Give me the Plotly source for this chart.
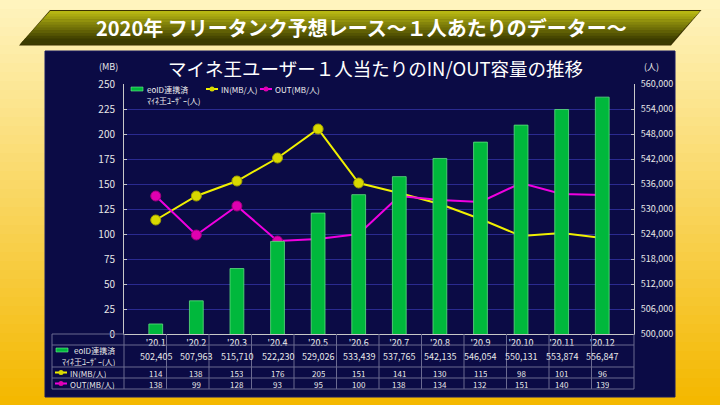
import plotly.graph_objects as go

W, H = 720, 405

# ---------------- data ----------------
months = ["'20.1", "'20.2", "'20.3", "'20.4", "'20.5", "'20.6",
          "'20.7", "'20.8", "'20.9", "'20.10", "'20.11", "'20.12"]
users = [502405, 507963, 515710, 522230, 529026, 533439,
         537765, 542135, 546054, 550131, 553874, 556847]
in_mb = [114, 138, 153, 176, 205, 151, 141, 130, 115, 98, 101, 96]
out_mb = [138, 99, 128, 93, 95, 100, 138, 134, 132, 151, 140, 139]

left_ticks = list(range(0, 251, 25))
right_ticks = list(range(500000, 560001, 6000))

banner_title = "2020年 フリータンク予想レース～１人あたりのデーター～"
chart_title = "マイネ王ユーザー１人当たりのIN/OUT容量の推移"
bar_name = "eoID連携済<br>ﾏｲﾈ王ﾕｰｻﾞｰ(人)"
in_name = "IN(MB/人)"
out_name = "OUT(MB/人)"

GREEN = "#00B83C"
YELLOW = "#F0F000"
MAGENTA = "#F000E0"
FONT = "Noto Sans CJK JP"

def px(x):
    return x / W

def py(y):
    return 1 - y / H

# plot area in pixels
PL, PR, PT, PB = 124, 634, 84, 334

fig = go.Figure()

fig.add_trace(go.Bar(
    x=months, y=users, name=bar_name, yaxis="y2",
    marker=dict(color=GREEN, line=dict(color="#60E080", width=0.8)),
    width=0.34, showlegend=False,
))
fig.add_trace(go.Scatter(
    x=months, y=in_mb, name=in_name, mode="lines+markers",
    line=dict(color=YELLOW, width=2),
    marker=dict(size=10, color="#D8D800", line=dict(color="#A0A000", width=1)),
    showlegend=False,
))
fig.add_trace(go.Scatter(
    x=months, y=out_mb, name=out_name, mode="lines+markers",
    line=dict(color=MAGENTA, width=2),
    marker=dict(size=10, color="#E000B0", line=dict(color="#A00080", width=1)),
    showlegend=False,
))

shapes = []
annotations = []

# background gradient
N = 45
top = (255, 244, 190)
bot = (244, 184, 0)
for i in range(N):
    t = i / (N - 1)
    c = tuple(int(top[k] + (bot[k] - top[k]) * t) for k in range(3))
    shapes.append(dict(type="rect", xref="paper", yref="paper",
                       x0=0, x1=1, y0=py(H * (i + 1) / N + 1), y1=py(H * i / N),
                       fillcolor="rgb(%d,%d,%d)" % c, line=dict(width=0), layer="below"))

# banner parallelogram with vertical gradient
btop, bbot = 11, 44
bl_top, bl_bot = 50, 20
br_top, br_bot = 700, 670
NB = 12
ctop = (190, 190, 20)
cbot = (60, 60, 0)
shapes.append(dict(type="path", xref="paper", yref="paper",
                   path="M %f,%f L %f,%f L %f,%f L %f,%f Z" % (
                       px(bl_bot - 1), py(bbot + 1.5), px(bl_top), py(btop - 1),
                       px(br_top + 1.5), py(btop - 1), px(br_bot + 1), py(bbot + 1.5)),
                   fillcolor="#3A3200", line=dict(width=0), layer="below"))
for i in range(NB):
    t0, t1 = i / NB, (i + 1) / NB
    y0 = btop + (bbot - btop) * t0
    y1 = btop + (bbot - btop) * t1
    xl0 = bl_top + (bl_bot - bl_top) * t0
    xl1 = bl_top + (bl_bot - bl_top) * t1
    xr0 = br_top + (br_bot - br_top) * t0
    xr1 = br_top + (br_bot - br_top) * t1
    tm = (t0 + t1) / 2
    f = min(1, tm * 1.15)
    c = tuple(int(ctop[k] + (cbot[k] - ctop[k]) * f) for k in range(3))
    shapes.append(dict(type="path", xref="paper", yref="paper",
                       path="M %f,%f L %f,%f L %f,%f L %f,%f Z" % (
                           px(xl0), py(y0), px(xr0), py(y0), px(xr1), py(y1 + 0.5), px(xl1), py(y1 + 0.5)),
                       fillcolor="rgb(%d,%d,%d)" % c, line=dict(width=0), layer="below"))

annotations.append(dict(text="<b>" + banner_title + "</b>", x=px(361), y=py(28), xref="paper", yref="paper",
                        showarrow=False, font=dict(family=FONT, size=20, color="white"),
                        xanchor="center", yanchor="middle"))

# dark panel
shapes.append(dict(type="rect", xref="paper", yref="paper",
                   x0=px(45), x1=px(675), y0=py(397), y1=py(51),
                   fillcolor="#0B0B45", line=dict(color="#181860", width=1), layer="below"))

annotations.append(dict(text=chart_title, x=px(375), y=py(68), xref="paper", yref="paper",
                        showarrow=False, font=dict(family=FONT, size=18.5, color="white"),
                        xanchor="center", yanchor="middle"))
annotations.append(dict(text="(MB)", x=px(108), y=py(66), xref="paper", yref="paper",
                        showarrow=False, font=dict(family=FONT, size=9, color="#E8E8E8"),
                        xanchor="center", yanchor="middle"))
annotations.append(dict(text="(人)", x=px(651), y=py(66), xref="paper", yref="paper",
                        showarrow=False, font=dict(family=FONT, size=9, color="#E8E8E8"),
                        xanchor="center", yanchor="middle"))

# in-plot legend (drawn manually)
LC = "#F0F0F0"
def swatch_bar(x, y):
    shapes.append(dict(type="rect", xref="paper", yref="paper",
                       x0=px(x), x1=px(x + 12), y0=py(y + 2), y1=py(y - 2),
                       fillcolor=GREEN, line=dict(color="#70F090", width=0.6), layer="above"))

def swatch_line(x, y, col, mcol):
    shapes.append(dict(type="line", xref="paper", yref="paper",
                       x0=px(x), x1=px(x + 12), y0=py(y), y1=py(y),
                       line=dict(color=col, width=2), layer="above"))
    shapes.append(dict(type="circle", xref="paper", yref="paper",
                       x0=px(x + 3.5), x1=px(x + 8.5), y0=py(y + 2.5), y1=py(y - 2.5),
                       fillcolor=mcol, line=dict(width=0), layer="above"))

swatch_bar(131, 89)
annotations.append(dict(text="eoID連携済", x=px(145), y=py(89), xref="paper", yref="paper",
                        showarrow=False, font=dict(family=FONT, size=8, color=LC),
                        xanchor="left", yanchor="middle"))
annotations.append(dict(text="ﾏｲﾈ王ﾕｰｻﾞｰ(人)", x=px(145), y=py(100), xref="paper", yref="paper",
                        showarrow=False, font=dict(family=FONT, size=8, color=LC),
                        xanchor="left", yanchor="middle"))
swatch_line(206, 89, YELLOW, "#D8D800")
annotations.append(dict(text=in_name, x=px(219), y=py(89), xref="paper", yref="paper",
                        showarrow=False, font=dict(family=FONT, size=8, color=LC),
                        xanchor="left", yanchor="middle"))
swatch_line(260, 89, MAGENTA, "#E000B0")
annotations.append(dict(text=out_name, x=px(273), y=py(89), xref="paper", yref="paper",
                        showarrow=False, font=dict(family=FONT, size=8, color=LC),
                        xanchor="left", yanchor="middle"))

# data table below the plot
TL = 52
rows_y = [PB, 345, 367, 378, 389]
GC = "#6A6A90"
for yy in rows_y[1:]:
    shapes.append(dict(type="line", xref="paper", yref="paper",
                       x0=px(TL), x1=px(PR), y0=py(yy), y1=py(yy),
                       line=dict(color=GC, width=1)))
shapes.append(dict(type="line", xref="paper", yref="paper",
                   x0=px(TL), x1=px(PL), y0=py(PB), y1=py(PB), line=dict(color=GC, width=1)))
shapes.append(dict(type="line", xref="paper", yref="paper",
                   x0=px(TL), x1=px(TL), y0=py(rows_y[0]), y1=py(rows_y[-1]),
                   line=dict(color=GC, width=1)))
colw = (PR - PL) / len(months)
for k in range(len(months) + 1):
    xx = PL + k * colw
    shapes.append(dict(type="line", xref="paper", yref="paper",
                       x0=px(xx), x1=px(xx), y0=py(rows_y[0]), y1=py(rows_y[-1]),
                       line=dict(color=GC, width=1)))

TC = "#E8E8E8"
for m, u, a, b in zip(months, users, in_mb, out_mb):
    annotations.append(dict(text=f"{u:,}", x=m, y=py(356), xref="x", yref="paper",
                            showarrow=False, font=dict(family=FONT, size=9, color=TC),
                            xanchor="center", yanchor="middle"))
    annotations.append(dict(text=str(a), x=m, y=py(372.5), xref="x", yref="paper",
                            showarrow=False, font=dict(family=FONT, size=8, color=TC),
                            xanchor="center", yanchor="middle", height=10))
    annotations.append(dict(text=str(b), x=m, y=py(383.5), xref="x", yref="paper",
                            showarrow=False, font=dict(family=FONT, size=8, color=TC),
                            xanchor="center", yanchor="middle", height=10))

# table row headers
swatch_bar(56, 350)
annotations.append(dict(text="eoID連携済", x=px(94), y=py(350), xref="paper", yref="paper",
                        showarrow=False, font=dict(family=FONT, size=8, color=TC),
                        xanchor="center", yanchor="middle", height=10))
annotations.append(dict(text="ﾏｲﾈ王ﾕｰｻﾞｰ(人)", x=px(88), y=py(361), xref="paper", yref="paper",
                        showarrow=False, font=dict(family=FONT, size=8, color=TC),
                        xanchor="center", yanchor="middle", height=10))
swatch_line(55, 372.5, YELLOW, "#D8D800")
annotations.append(dict(text=in_name, x=px(68), y=py(372.5), xref="paper", yref="paper",
                        showarrow=False, font=dict(family=FONT, size=8, color=TC),
                        xanchor="left", yanchor="middle", height=10))
swatch_line(55, 383.5, MAGENTA, "#E000B0")
annotations.append(dict(text=out_name, x=px(68), y=py(383.5), xref="paper", yref="paper",
                        showarrow=False, font=dict(family=FONT, size=8, color=TC),
                        xanchor="left", yanchor="middle", height=10))

fig.update_layout(
    template="none",
    width=W, height=H,
    margin=dict(l=0, r=0, t=0, b=0, pad=0),
    paper_bgcolor="rgb(255,244,190)",
    plot_bgcolor="rgba(0,0,0,0)",
    showlegend=False,
    shapes=shapes,
    annotations=annotations,
    font=dict(family=FONT, color="white"),
    xaxis=dict(
        domain=[px(PL), px(PR)],
        type="category",
        automargin=False,
        showgrid=False,
        showline=True, linecolor="#C8C8C8", linewidth=1,
        ticks="", tickfont=dict(family=FONT, size=9, color="#F0F0F0"),
        ticklabelstandoff=0,
    ),
    yaxis=dict(
        domain=[py(PB), py(PT)],
        range=[0, 250],
        tickvals=left_ticks,
        automargin=False,
        showgrid=True, gridcolor="#2A2A90", gridwidth=1,
        zeroline=False,
        showline=True, linecolor="#C8C8C8", linewidth=1,
        ticks="inside", ticklen=3, tickcolor="#C8C8C8",
        tickfont=dict(family=FONT, size=10, color="#E8E8E8"),
        ticklabelstandoff=6,
    ),
    yaxis2=dict(
        overlaying="y", side="right",
        range=[500000, 560000],
        tickvals=right_ticks,
        tickformat=",",
        automargin=False,
        showgrid=False, zeroline=False,
        showline=True, linecolor="#C8C8C8", linewidth=1,
        ticks="inside", ticklen=3, tickcolor="#C8C8C8",
        tickfont=dict(family=FONT, size=9, color="#E8E8E8"),
        ticklabelstandoff=4,
    ),
)

fig.write_html("out.html",
               config={"displayModeBar": False},
               post_script="document.body.style.margin='0';document.body.style.overflow='hidden';")
